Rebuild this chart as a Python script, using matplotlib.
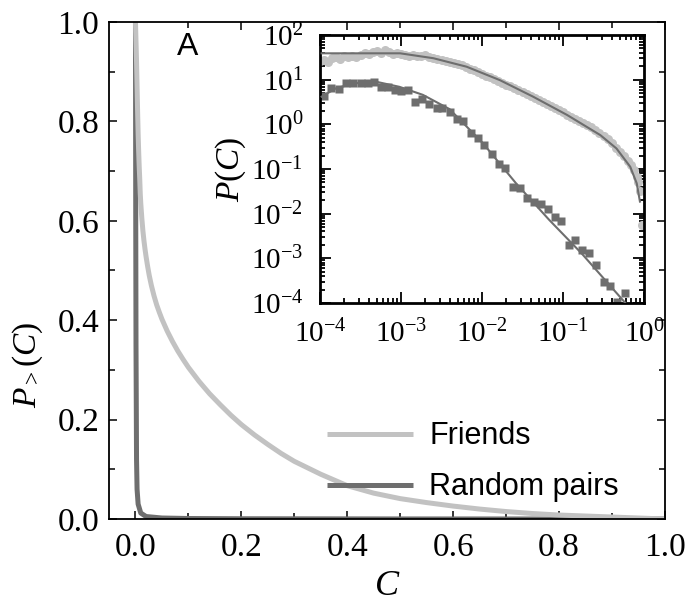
import numpy as np
import matplotlib
matplotlib.use('Agg')
import matplotlib.pyplot as plt
from matplotlib.ticker import MultipleLocator, LogLocator, LogFormatterMathtext, NullFormatter

plt.rcParams['font.family'] = 'Liberation Serif'
plt.rcParams['mathtext.fontset'] = 'custom'
plt.rcParams['mathtext.rm'] = 'Liberation Serif'
plt.rcParams['mathtext.it'] = 'Liberation Serif:italic'
plt.rcParams['axes.unicode_minus'] = False

# ---- main panel: cumulative distributions P_>(C) ----
friends_C = [0.0, 0.001, 0.002, 0.003, 0.004, 0.005, 0.006, 0.007, 0.008, 0.009,
             0.010, 0.012, 0.014, 0.016, 0.018, 0.020, 0.023, 0.026, 0.030, 0.035,
             0.040, 0.045, 0.050, 0.060, 0.070, 0.080, 0.090, 0.100, 0.120, 0.140,
             0.160, 0.180, 0.200, 0.225, 0.250, 0.275, 0.300, 0.350, 0.400, 0.450,
             0.500, 0.550, 0.600, 0.650, 0.700, 0.750, 0.800, 0.850, 0.900, 0.950, 1.000]
friends_P = [1.0, 0.96, 0.92, 0.87, 0.82, 0.775, 0.74, 0.71, 0.685, 0.655,
             0.635, 0.605, 0.58, 0.56, 0.543, 0.528, 0.508, 0.49, 0.47, 0.449,
             0.431, 0.416, 0.402, 0.378, 0.357, 0.338, 0.321, 0.305, 0.277, 0.252,
             0.230, 0.209, 0.190, 0.169, 0.150, 0.132, 0.116, 0.090, 0.067, 0.052,
             0.041, 0.033, 0.026, 0.020, 0.015, 0.011, 0.008, 0.006, 0.004, 0.002, 0.0]
random_C = [0.0, 0.0005, 0.001, 0.002, 0.003, 0.005, 0.01, 0.02, 0.05, 0.1, 0.2, 0.5, 1.0]
random_P = [1.0, 0.6, 0.35, 0.12, 0.06, 0.03, 0.012, 0.005, 0.002, 0.001, 0.0005, 0.0001, 0.0]

# ---- inset: densities P(C), log10 values ----
friends_pts_logC = [-4.00, -3.95, -3.90, -3.85, -3.80, -3.75, -3.70, -3.65, -3.60, -3.55,
                    -3.50, -3.45, -3.40, -3.35, -3.30, -3.25, -3.20, -3.15, -3.10, -3.05,
                    -3.00, -2.95, -2.90, -2.85, -2.80, -2.75, -2.70, -2.65, -2.60, -2.55,
                    -2.50, -2.45, -2.40, -2.35, -2.30, -2.25, -2.20, -2.15, -2.10, -2.05,
                    -2.00, -1.95, -1.90, -1.85, -1.80, -1.75, -1.70, -1.65, -1.60, -1.55,
                    -1.50, -1.45, -1.40, -1.35, -1.30, -1.25, -1.20, -1.15, -1.10, -1.05,
                    -1.00, -0.95, -0.90, -0.85, -0.80, -0.75, -0.70, -0.65, -0.60, -0.55,
                    -0.50, -0.45, -0.40, -0.35, -0.30, -0.25, -0.20, -0.16, -0.12, -0.09,
                    -0.07, -0.05, -0.03]
friends_pts_logP = [1.42, 1.45, 1.40, 1.48, 1.50, 1.47, 1.52, 1.50, 1.53, 1.51,
                    1.55, 1.60, 1.58, 1.62, 1.64, 1.60, 1.66, 1.61, 1.58, 1.60,
                    1.57, 1.56, 1.54, 1.55, 1.52, 1.53, 1.55, 1.50, 1.48, 1.46,
                    1.44, 1.42, 1.40, 1.38, 1.35, 1.32, 1.29, 1.24, 1.21, 1.17,
                    1.13, 1.09, 1.05, 1.01, 0.96, 0.93, 0.89, 0.85, 0.81, 0.77,
                    0.72, 0.68, 0.63, 0.59, 0.54, 0.50, 0.45, 0.41, 0.36, 0.32,
                    0.27, 0.21, 0.16, 0.12, 0.07, 0.03, -0.02, -0.07, -0.13, -0.19,
                    -0.26, -0.33, -0.42, -0.52, -0.62, -0.72, -0.83, -0.92, -1.02, -1.18,
                    -1.28, -1.50, -2.25]
friends_fit_logC = [-3.98, -3.01, -2.60, -2.19, -1.78, -1.37, -0.95, -0.54, -0.34, -0.17, -0.09, -0.05]
friends_fit_logP = [1.59, 1.59, 1.48, 1.29, 0.99, 0.62, 0.21, -0.24, -0.54, -0.95, -1.32, -1.73]

random_pts_logC = [-3.95, -3.86, -3.77, -3.68, -3.59, -3.50, -3.41, -3.33, -3.25, -3.16,
                   -3.08, -3.00, -2.91, -2.83, -2.74, -2.65, -2.56, -2.49, -2.40, -2.31,
                   -2.23, -2.14, -2.05, -1.97, -1.88, -1.79, -1.71, -1.62, -1.53, -1.44,
                   -1.36, -1.27, -1.19, -1.10, -1.02, -0.93, -0.85, -0.76, -0.68, -0.59,
                   -0.50, -0.42, -0.33, -0.24]
random_pts_logP = [0.635, 0.81, 0.78, 0.93, 0.92, 0.92, 0.93, 0.955, 0.84, 0.83,
                   0.77, 0.75, 0.77, 0.51, 0.57, 0.455, 0.37, 0.36, 0.28, 0.11,
                   0.075, -0.20, -0.31, -0.46, -0.67, -0.89, -0.98, -1.40, -1.42, -1.64,
                   -1.74, -1.79, -1.90, -2.08, -2.16, -2.70, -2.59, -2.81, -2.87, -3.15,
                   -3.54, -3.61, -3.98, -3.78]
random_fit_logC = [-3.98, -3.80, -3.56, -3.31, -3.02, -2.73, -2.40, -1.99, -1.58, -1.17, -0.77, -0.23]
random_fit_logP = [0.62, 0.81, 0.92, 0.955, 0.84, 0.66, 0.34, -0.42, -1.32, -2.14, -2.89, -4.0]

light = '#c2c2c2'
dark = '#6e6e6e'

fig = plt.figure(figsize=(6.9, 6.05), dpi=100)
ax = fig.add_axes([109/690, 1-519/605, 556/690, 497/605])

ax.plot(random_C, random_P, color=dark, lw=3.6, label='Random pairs', solid_capstyle='butt')
ax.plot(friends_C, friends_P, color=light, lw=3.6, label='Friends', solid_capstyle='butt')
ax.set_xlim(-0.05, 1.0)
ax.set_ylim(0.0, 1.0)
ax.xaxis.set_major_locator(MultipleLocator(0.2))
ax.xaxis.set_minor_locator(MultipleLocator(0.1))
ax.yaxis.set_major_locator(MultipleLocator(0.2))
ax.yaxis.set_minor_locator(MultipleLocator(0.1))
ax.xaxis.set_major_formatter(plt.FuncFormatter(lambda v, p: f'{v:.1f}'))
ax.yaxis.set_major_formatter(plt.FuncFormatter(lambda v, p: f'{v:.1f}'))
ax.tick_params(which='both', direction='in', top=True, right=True, width=1.1, labelsize=24)
ax.tick_params(axis='x', pad=10)
ax.tick_params(axis='y', pad=7)
ax.tick_params(which='major', length=6)
ax.tick_params(which='minor', length=4)
for s in ax.spines.values():
    s.set_linewidth(1.3)
ax.set_xlabel('$C$', fontsize=26, labelpad=5)
ax.set_ylabel('$P_{>}(C)$', fontsize=24)
ax.yaxis.set_label_coords(-0.115, 0.31)

h, l = ax.get_legend_handles_labels()
ax.legend([h[1], h[0]], [l[1], l[0]], loc='center left', bbox_to_anchor=(0.392, 0.115),
          frameon=False, prop={'family': 'Liberation Sans', 'size': 22},
          handlelength=2.8, handletextpad=0.55, borderpad=0, labelspacing=0.68, borderaxespad=0)
ax.text(0.141, 0.95, 'A', transform=ax.transAxes, family='Liberation Sans', fontsize=23,
        ha='center', va='center')

# inset
ins = fig.add_axes([320/690, 1-303/605, 324/690, 268/605])
ins.set_xscale('log')
ins.set_yscale('log')
ins.plot(10**np.array(friends_pts_logC), 10**np.array(friends_pts_logP), 'o', color=light,
         ms=6.5, mec='none', zorder=2)
ins.plot(10**np.array(friends_fit_logC), 10**np.array(friends_fit_logP), '-', color=dark, lw=1.5, zorder=3)
ins.plot(10**np.array(random_pts_logC), 10**np.array(random_pts_logP), 's', color=dark,
         ms=6, mec='none', zorder=2)
ins.plot(10**np.array(random_fit_logC), 10**np.array(random_fit_logP), '-', color=dark, lw=1.5, zorder=3)
ins.set_xlim(1e-4, 1.0)
ins.set_ylim(1e-4, 1e2)
ins.xaxis.set_major_locator(LogLocator(base=10, numticks=10))
ins.yaxis.set_major_locator(LogLocator(base=10, numticks=10))
ins.xaxis.set_minor_locator(LogLocator(base=10, subs=np.arange(2, 10), numticks=20))
ins.yaxis.set_minor_locator(LogLocator(base=10, subs=np.arange(2, 10), numticks=20))
ins.xaxis.set_major_formatter(LogFormatterMathtext())
ins.yaxis.set_major_formatter(LogFormatterMathtext())
ins.xaxis.set_minor_formatter(NullFormatter())
ins.yaxis.set_minor_formatter(NullFormatter())
ins.tick_params(which='both', direction='in', top=True, right=True, width=1.3, labelsize=21, pad=12)
ins.tick_params(which='major', length=8)
ins.tick_params(which='minor', length=3.5)
for s in ins.spines.values():
    s.set_linewidth(2.0)
ins.set_ylabel('$P(C)$', fontsize=24, labelpad=2)

fig.savefig('out.png', dpi=100)
